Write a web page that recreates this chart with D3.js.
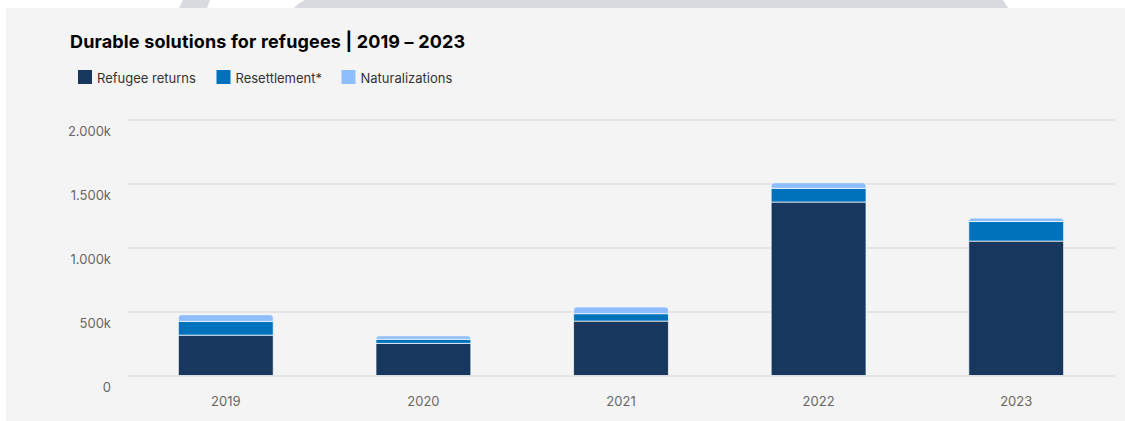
<!DOCTYPE html>
<html>
<head>
<meta charset="utf-8">
<script src="https://cdn.jsdelivr.net/npm/d3@7"></script>
<style>
  html, body { margin: 0; padding: 0; background: #ffffff; }
  svg { display: block; }
  text { font-family: "Inter", "Lato", "Open Sans", sans-serif; }
</style>
</head>
<body>
<svg id="chart" width="1125" height="421"></svg>
<script>
// Durable solutions for refugees, thousands of people per year
const years = ["2019", "2020", "2021", "2022", "2023"];
const refugeeReturns = [315, 251, 425, 1355, 1050];
const resettlement = [108, 32, 58, 107, 153];
const naturalizations = [52, 27, 53, 44, 27];

const seriesNames = ["Refugee returns", "Resettlement*", "Naturalizations"];
const seriesColors = ["#18375f", "#0072bc", "#8ebeff"];
const yTicks = [0, 500, 1000, 1500, 2000];

const width = 1125, height = 421;
const svg = d3.select("#chart");

// Top decoration strip and panel
svg.append("rect").attr("x", 0).attr("y", 0).attr("width", width).attr("height", height).attr("fill", "#ffffff");
svg.append("path").attr("d", "M183,0 L210,0 L207,8 L179,8 Z").attr("fill", "#d9dae0");
svg.append("path").attr("d", "M305,0 L1003,0 L1008,8 L294,8 Q298,3 305,0 Z").attr("fill", "#d9dae0");
svg.append("rect").attr("x", 6).attr("y", 8).attr("width", width - 6).attr("height", height - 8).attr("fill", "#f4f4f4");

// Title
svg.append("text")
  .attr("x", 70).attr("y", 48)
  .attr("font-size", 18).attr("font-weight", 700).attr("fill", "#000")
  .attr("letter-spacing", 0.15)
  .text("Durable solutions for refugees | 2019 \u2013 2023");

// Legend
const legendX = [78, 216.5, 341.5];
const legend = svg.append("g");
seriesNames.forEach((name, i) => {
  legend.append("rect")
    .attr("x", legendX[i]).attr("y", 70).attr("width", 14).attr("height", 14)
    .attr("fill", seriesColors[i]);
  legend.append("text")
    .attr("x", legendX[i] + 19).attr("y", 78).attr("dy", "0.35em")
    .attr("font-size", 13).attr("fill", "#333")
    .text(name);
});

// Scales
const x = d3.scaleBand().domain(years).range([127, 1115]).paddingInner(0.52).paddingOuter(0.26);
const y = d3.scaleLinear().domain([0, 2000]).range([375.5, 119.5]);

// Grid lines and y labels
const yAxis = d3.axisLeft(y).tickValues(yTicks)
  .tickSize(-(1115 - 127))
  .tickFormat(d => d === 0 ? "0" : d3.format(",")(d).replace(/,/g, ".") + "k");
const gy = svg.append("g").attr("transform", "translate(127,0)").call(yAxis);
gy.select(".domain").remove();
gy.selectAll(".tick line").attr("stroke", "#d6d6d6").attr("stroke-width", 1.2);
gy.selectAll(".tick text")
  .attr("x", -16).attr("dy", "1.2em")
  .attr("font-size", 13).attr("fill", "#666")
  .style("font-family", "Inter, Lato, sans-serif");

// Stacked bars
const table = years.map((yr, i) => ({
  year: yr,
  "Refugee returns": refugeeReturns[i],
  "Resettlement*": resettlement[i],
  "Naturalizations": naturalizations[i]
}));
const stacked = d3.stack().keys(seriesNames)(table);

const r = 3;
function segmentPath(x0, x1, yTop, yBot, rounded) {
  if (!rounded) return `M${x0},${yBot}V${yTop}H${x1}V${yBot}Z`;
  return `M${x0},${yBot}V${yTop + r}Q${x0},${yTop} ${x0 + r},${yTop}H${x1 - r}Q${x1},${yTop} ${x1},${yTop + r}V${yBot}Z`;
}

stacked.forEach((layer, si) => {
  svg.append("g").selectAll("path")
    .data(layer)
    .join("path")
    .attr("d", d => {
      const x0 = x(d.data.year), x1 = x0 + x.bandwidth();
      return segmentPath(x0, x1, y(d[1]), y(d[0]), si === stacked.length - 1);
    })
    .attr("fill", seriesColors[si])
    .attr("stroke", "#ffffff")
    .attr("stroke-opacity", 0.7)
    .attr("stroke-width", 1);
});

// X axis labels
const xAxis = d3.axisBottom(x).tickSize(0);
const gx = svg.append("g").attr("transform", "translate(0,375.5)").call(xAxis);
gx.select(".domain").remove();
gx.selectAll(".tick text")
  .attr("y", 26).attr("dy", "0.35em")
  .attr("font-size", 13).attr("fill", "#666")
  .style("font-family", "Inter, Lato, sans-serif");
</script>
</body>
</html>
